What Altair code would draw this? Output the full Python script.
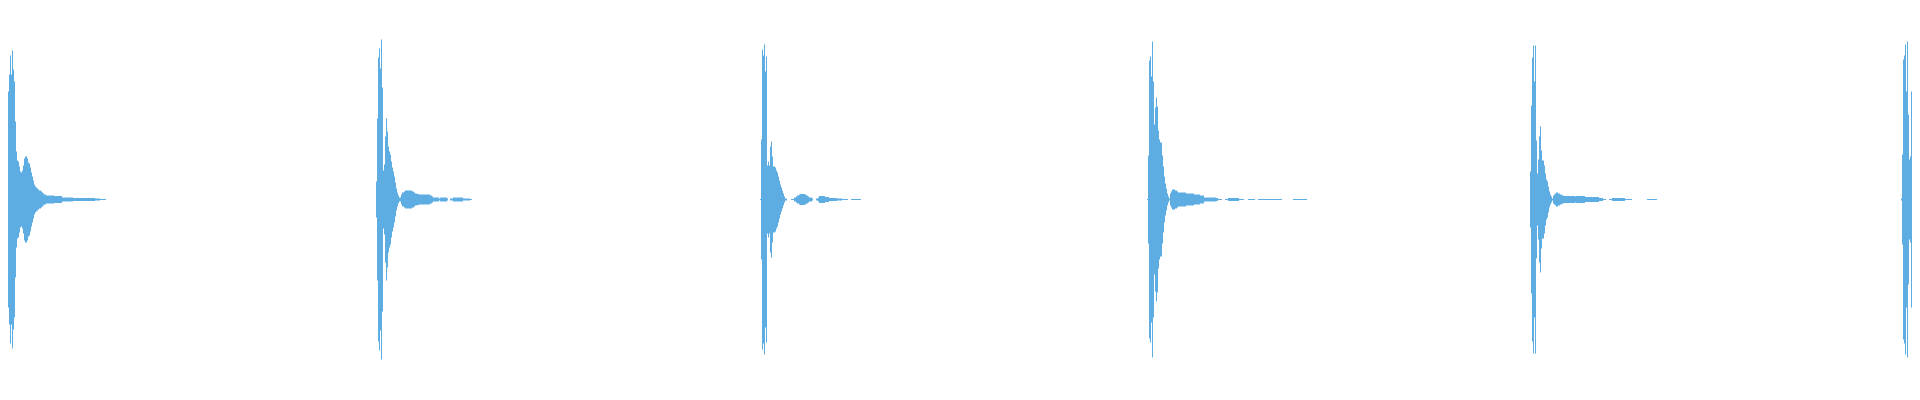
import altair as alt
import pandas as pd

COLOR = "#5DADE2"

# Half-height of the waveform envelope, one value per sample column; 0 = silent.
burst1_start = 8
burst1 = [108, 125, 144, 125, 149, 130, 118, 78, 48, 39, 38, 33, 28, 27, 29, 34, 41, 43, 43, 41,
          37, 36, 32, 27, 23, 19, 15, 13, 12, 11, 10, 9, 9, 8, 7, 6, 5, 5] + [4] * 8 + [3.5] * 8 + \
         [2] * 7 + [2] * 4 + [1.5] * 22 + [1] * 5 + [0.5] * 6
burst2_start = 376
burst2 = [18, 81, 142, 151, 131, 160, 112, 29, 35, 63, 81, 68, 53, 48, 45, 38, 32, 28, 23, 17, 11,
          7, 4, 2, 2, 5, 7, 7, 8, 9, 9, 9, 9, 9, 9, 9, 8, 8, 7, 6, 6, 5.5, 5.5] + [5] * 11 + \
         [4, 4, 3] + [2] * 6 + [1] + [2] * 7 + [1] + [0, 0] + [1] * 3 + [2] * 10 + [1] * 7 + [0.5] * 2
burst3_start = 760
burst3 = [0.5, 60, 150, 144, 155, 128, 143, 34, 38, 34, 53, 58, 43, 33, 33, 32, 29, 27, 23, 19, 15,
          12, 9, 6, 3, 1, 1] + [0] * 4 + [0.5] * 3 + [2, 2, 3, 4, 4, 5] + [5.5] * 5 + \
         [5, 4, 4, 3, 2, 2, 2, 1, 0, 0, 0, 1, 1, 2] + [3.5] * 6 + [2.5] * 4 + [1.5] * 8 + [1] * 5 + \
         [0.5] * 6 + [0] * 3 + [0.5] * 10
burst4_start = 1147
burst4 = [0.5, 44, 139, 143, 123, 158, 118, 75, 92, 102, 93, 69, 60, 57, 57, 44, 33, 23, 16, 11, 6,
          3, 1, 6, 8, 10, 10, 10, 9, 9, 8] + [7] * 8 + [6] * 8 + [5] * 6 + [4] * 4 + [2] * 12 + \
         [1.5] * 2 + [0.5] * 4 + [0] * 3 + [0.5] * 3 + [1.5] * 11 + [0.5] * 5 + [0] * 4 + \
         [0.5] * 7 + [0] * 3 + [0.5] * 24 + [0] * 11 + [0.5] * 14
burst5_start = 1530
burst5 = [28, 94, 142, 154, 118, 154, 59, 26, 40, 63, 73, 49, 39, 39, 34, 26, 20, 18, 13, 8, 5, 3,
          1, 4, 5, 6, 7, 7, 6, 6, 5, 5, 4, 4] + [3.5] * 11 + [3] + [3.5] * 9 + [2.5] * 14 + \
         [1.5] * 4 + [0.5] * 3 + [0] * 3 + [0.5] * 3 + [1.5] * 13 + [0.5] * 7 + [0] * 15 + [0.5] * 10
burst6_start = 1901
burst6 = [1, 45, 140, 144, 155, 108, 158, 85, 40, 43, 108, 119, 41, 8, 18, 23, 20, 15, 14]

starts = [burst1_start, burst2_start, burst3_start, burst4_start, burst5_start, burst6_start]
bursts = [burst1, burst2, burst3, burst4, burst5, burst6]

rows = []
for start, amps in zip(starts, bursts):
    for i, a in enumerate(amps):
        if a > 0:
            rows.append({"t": start + i + 0.5, "hi": a, "lo": -a})
df = pd.DataFrame(rows)

chart = (
    alt.Chart(df)
    .mark_rule(color=COLOR, strokeWidth=1, clip=True)
    .encode(
        x=alt.X("t:Q", axis=None, scale=alt.Scale(domain=[8, 1912], nice=False, zero=False)),
        y=alt.Y("hi:Q", axis=None, scale=alt.Scale(domain=[-200.5, 191.5], nice=False, zero=False)),
        y2="lo:Q",
    )
    .properties(width=1904, height=392, padding=0, background="white", autosize=alt.AutoSizeParams(type="none"))
    .configure_view(stroke=None)
)
chart.save("out.html", embed_options={"renderer": "svg", "actions": False})
